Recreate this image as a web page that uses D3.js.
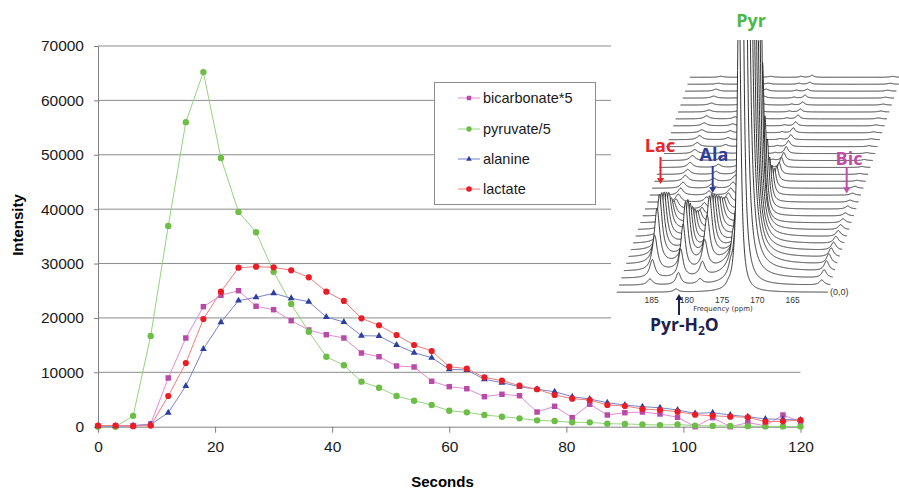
<!DOCTYPE html>
<html><head><meta charset="utf-8">
<script src="https://cdn.jsdelivr.net/npm/d3@7"></script>
<style>body{margin:0;background:#fff}svg{display:block}</style>
</head><body>
<svg id="c" width="899" height="489"></svg>
<script>
// ---------- main chart data ----------
const seconds = [0,3,6,9,12,15,18,21,24,27,30,33,36,39,42,45,48,51,54,57,60,63,66,69,72,75,78,81,84,87,90,93,96,99,102,105,108,111,114,117,120];
const bicarbonate5 = [100,100,200,500,8960,16310,22070,24160,25010,22140,21520,19490,17780,16920,16310,13550,12870,11160,10980,8350,7360,6990,5520,5960,5700,2700,3750,1660,4120,2150,2580,2700,2340,1730,0,1660,0,740,180,2150,920];
const pyruvate5 = [0,0,2000,16700,36900,56000,65200,49400,39500,35750,28500,22560,17470,12870,11290,8280,7170,5650,4780,3990,2940,2640,2150,1840,1540,1170,1050,800,800,550,500,400,300,400,200,150,150,100,50,50,50];
const alanine = [100,100,200,400,2580,7490,14290,19200,23180,23790,24530,23610,22990,20170,19250,16730,16680,15020,13610,12690,10560,10430,8720,8090,7360,6880,6440,5520,5090,4410,3990,3680,3490,3070,2460,2580,2150,1840,1420,1360,1230];
const lactate = [200,200,100,200,5650,11710,19800,24830,29240,29420,29310,28760,27470,24830,23120,19930,18650,16860,15020,13920,11030,10670,9080,8460,7540,6880,5830,5150,4910,3990,3810,3260,3070,2760,2210,2020,1840,1730,920,990,1230];
const seriesNames = ["bicarbonate*5","pyruvate/5","alanine","lactate"];
const xTicks = [0,20,40,60,80,100,120];
const yTicks = [0,10000,20000,30000,40000,50000,60000,70000];

// ---------- inset (stacked 13C spectra) data, one value per spectrum row, front to back ----------
const insetLabels = ["Pyr","Lac","Ala","Bic"];
const insetFreqTicks = [185,180,175,170,165];
const insetLac  = [0,6,18,35,55,62,57,51,44,37,25,15,10,8,7,6,6,5,5,5,4,4,4,3,3,3,2,2,2,2,1,1];
const insetAla  = [0,5,14,28,45,58,54,47,40,33,26,18,12,9,7,6,6,5,5,4,4,4,3,3,3,3,2,2,2,2,1,1];
const insetPyrH = [3,12,28,45,60,55,45,35,26,18,12,8,6,5,4,4,3,3,3,3,2,2,2,2,2,2,1,1,1,1,1,1];
const insetMinor= [2,6,12,16,15,12,9,6,4,3,2,2,2,1,1,1,1,1,1,1,1,1,1,1,1,1,1,1,1,1,1,1];
const insetPyr  = [320,600,1000,1200,1200,1000,800,600,450,320,160,100,70,45,30,20,15,12,10,8,7,6,5,5,4,4,3,3,3,2,2,2];
const insetBic  = [0,5,8,10,10,9,8,7,6,5,4,3,3,2,2,2,1,1,1,1,1,1,1,1,1,1,1,1,1,1,1,1];
const insetPeakPpm = [185.58,178.48,181.55,174.18,172.62,161.21];
const insetPeakWidth = [0.45,0.45,0.4,0.3,0.3,0.4];

const svg = d3.select("#c");
const FONT = "'Liberation Sans', Arial, sans-serif";

const x = d3.scaleLinear().domain([0,120]).range([98,800.5]);
const y = d3.scaleLinear().domain([0,70000]).range([426.7,46]);

// gridlines
svg.append("g").selectAll("line").data(yTicks.filter(d=>d>0)).join("line")
  .attr("x1",x(0)).attr("x2",x(120))
  .attr("y1",d=>y(d)).attr("y2",d=>y(d))
  .attr("stroke","#8c8c8c").attr("stroke-width",1);

// axes
const xAxis = svg.append("g").attr("transform",`translate(0,${y(0)})`)
  .call(d3.axisBottom(x).tickValues(xTicks).tickSize(6).tickSizeOuter(0).tickPadding(8));
const yAxis = svg.append("g").attr("transform",`translate(${x(0)},0)`)
  .call(d3.axisLeft(y).tickValues(yTicks).tickSize(4).tickSizeOuter(0).tickPadding(10).tickFormat(d3.format("d")));
[xAxis,yAxis].forEach(a=>{
  a.selectAll("path,line").attr("stroke","#808080");
  a.selectAll("text").attr("fill","#1a1a1a").style("font-family",FONT).style("font-size","15.5px");
});

svg.append("text").attr("x",442.5).attr("y",486.5).attr("text-anchor","middle")
  .style("font-family",FONT).style("font-size","15px").style("font-weight","bold").text("Seconds");
svg.append("text").attr("transform","translate(23,225) rotate(-90)").attr("text-anchor","middle")
  .style("font-family",FONT).style("font-size","15px").style("font-weight","bold").text("Intensity");

// ---------- inset ----------
svg.append("rect").attr("x",611).attr("y",0).attr("width",288).attr("height",342).attr("fill","#fff");
const defs = svg.append("defs");
defs.append("clipPath").attr("id","clipInset").append("rect").attr("x",600).attr("y",40).attr("width",299).attr("height",262);
const ppm = d3.scaleLinear().domain([185,165]).range([651.7,792.7]);
const rowDX = 2.36, rowDY = 6.935, base0 = 292.3;
const amps = [insetLac, insetAla, insetPyrH, insetMinor, insetPyr, insetBic];
const ppmGrid = d3.range(189.96, 160.0, -0.02);
const gIn = svg.append("g").attr("clip-path","url(#clipInset)");
for (let r = insetLac.length - 1; r >= 0; r--) {
  const base = base0 - r*rowDY;
  const pts = ppmGrid.map(p => {
    let h = 0;
    amps.forEach((a,i) => { const u = (p - insetPeakPpm[i]) / insetPeakWidth[i]; h += a[r] / (1 + u*u); });
    return [ppm(p) + r*rowDX, base - h];
  });
  gIn.append("path").attr("d", d3.area().x(d=>d[0]).y0(base+0.6).y1(d=>d[1])(pts)).attr("fill","#fff");
  gIn.append("path").attr("d", d3.line()(pts)).attr("fill","none").attr("stroke","#1e1e1e").attr("stroke-width",0.9);
}
svg.append("g").selectAll("text").data(insetFreqTicks).join("text")
  .attr("x",d=>ppm(d)).attr("y",302.5).attr("text-anchor","middle")
  .style("font-family",FONT).style("font-size","8.5px").attr("fill","#333").text(d=>d);
svg.append("text").attr("x",723).attr("y",311).attr("text-anchor","middle")
  .style("font-family","'DejaVu Sans', sans-serif").style("font-size","7px").attr("fill","#333").text("Frequency (ppm)");
svg.append("text").attr("x",830).attr("y",295).style("font-family",FONT).style("font-size","9px").attr("fill","#333").text("(0,0)");

const LF = "'Open Sans', 'Noto Sans', sans-serif";
const insetLabelPos = [[751,27,"#4db848"],[660,152,"#e8262a"],[714,161,"#2e3d98"],[849,164.5,"#c04da8"]];
insetLabels.forEach((t,i)=>{
  svg.append("text").attr("x",insetLabelPos[i][0]).attr("y",insetLabelPos[i][1]).attr("text-anchor","middle")
    .style("font-family",LF).style("font-size","18px").style("font-weight","bold")
    .attr("fill",insetLabelPos[i][2]).text(t);
});
function arrow(x0,y0,y1,color){
  const dir = y1>y0?1:-1;
  svg.append("line").attr("x1",x0).attr("x2",x0).attr("y1",y0).attr("y2",y1-dir*5).attr("stroke",color).attr("stroke-width",2);
  svg.append("path").attr("d",`M${x0-3.5},${y1-dir*6}L${x0+3.5},${y1-dir*6}L${x0},${y1}Z`).attr("fill",color);
}
arrow(660.5,157,184,"#e8262a");
arrow(712.7,166,193,"#2e3d98");
arrow(846.7,167,193.5,"#c04da8");
arrow(679,315,294,"#1b2150");
const ph = svg.append("text").attr("x",650).attr("y",331).style("font-family",LF).style("font-size","17.5px")
  .style("font-weight","bold").attr("fill","#1b2150");
ph.append("tspan").text("Pyr-H");
ph.append("tspan").attr("dy",4).style("font-size","12px").text("2");
ph.append("tspan").attr("dy",-4).text("O");

// ---------- series ----------
const series = [
  {name:seriesNames[0], v:bicarbonate5, mark:"#b84ba8", line:"#e48ad6", sym:d3.symbolSquare, size:30, lsize:20},
  {name:seriesNames[1], v:pyruvate5, mark:"#6cbe45", line:"#94d47e", sym:d3.symbolCircle, size:32, lsize:22},
  {name:seriesNames[2], v:alanine, mark:"#2b3f9e", line:"#7884c8", sym:d3.symbolTriangle, size:20, lsize:14},
  {name:seriesNames[3], v:lactate, mark:"#ed1c24", line:"#f47b7b", sym:d3.symbolCircle, size:30, lsize:24}
];
const line = d3.line().x((d,i)=>x(seconds[i])).y(d=>y(d));
series.forEach(s=>{
  const g = svg.append("g");
  g.append("path").attr("d",line(s.v)).attr("fill","none").attr("stroke",s.line).attr("stroke-width",1);
  g.selectAll("path.m").data(s.v).join("path").attr("class","m")
    .attr("transform",(d,i)=>`translate(${x(seconds[i])},${y(d)})`)
    .attr("d",d3.symbol(s.sym,s.size)).attr("fill",s.mark);
});

// ---------- legend ----------
const lg = svg.append("g");
lg.append("rect").attr("x",434.5).attr("y",82.5).attr("width",161).attr("height",122).attr("fill","#fff").attr("stroke","#8c8c8c");
const legY = [98,129,159,189];
series.forEach((s,i)=>{
  lg.append("line").attr("x1",458).attr("x2",480).attr("y1",legY[i]).attr("y2",legY[i]).attr("stroke",s.line);
  lg.append("path").attr("transform",`translate(469,${legY[i]})`).attr("d",d3.symbol(s.sym,s.lsize)).attr("fill",s.mark);
  lg.append("text").attr("x",483).attr("y",legY[i]).attr("dy","0.35em")
    .style("font-family",FONT).style("font-size","14.5px").attr("fill","#1a1a1a").text(s.name);
});
</script>
</body></html>
